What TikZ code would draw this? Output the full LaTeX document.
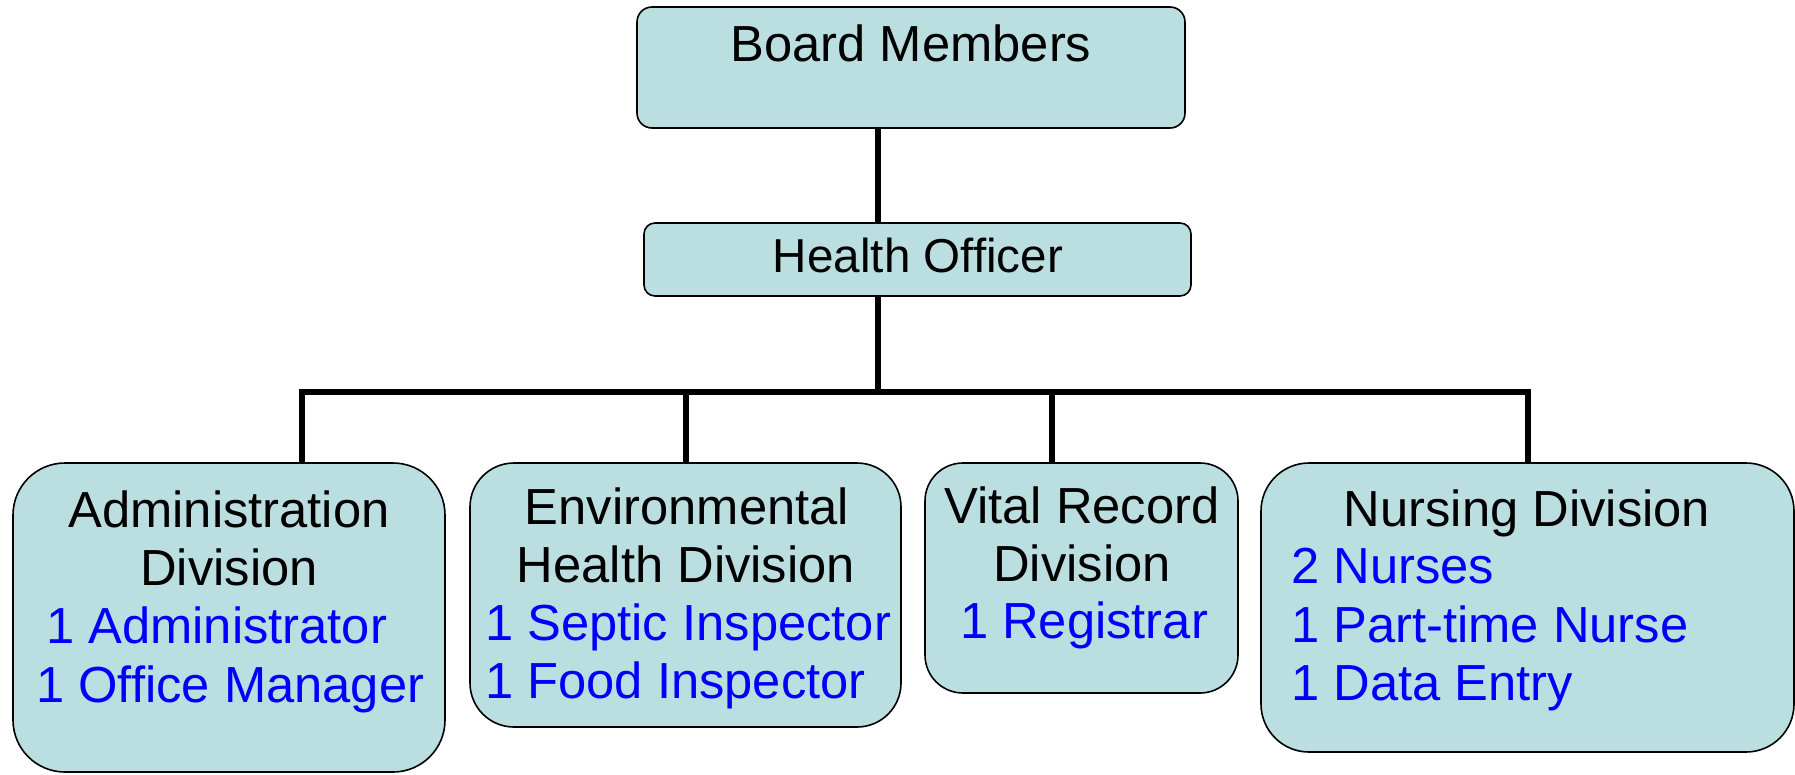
\documentclass[tikz,border=0pt]{standalone}
\usepackage{fontspec}
\setmainfont{Liberation Sans}
\definecolor{boxfill}{RGB}{187,223,225}
\definecolor{staff}{RGB}{0,0,255}
\begin{document}
\begin{tikzpicture}[x=1pt,y=-1pt,
  box/.style={draw=black, line width=1.6pt, fill=boxfill, rectangle, inner sep=0pt, outer sep=0pt},
  conn/.style={draw=black, line width=6pt},
  title/.style={inner sep=0pt, anchor=base, text=black, font=\fontsize{50.7}{58}\selectfont},
  stafftxt/.style={inner sep=0pt, anchor=base west, text=staff, font=\fontsize{50.7}{58}\selectfont},
  staffc/.style={inner sep=0pt, anchor=base, text=staff, font=\fontsize{50.7}{58}\selectfont}]
\useasboundingbox (0,0) rectangle (1795,774);
% boxes
\node[box, rounded corners=15pt, minimum width=548pt, minimum height=121pt] (board) at (911,67.5) {};
\node[box, rounded corners=11pt, minimum width=547pt, minimum height=73pt] (health) at (917.5,259.5) {};
\node[box, rounded corners=52pt, minimum width=432pt, minimum height=309pt] (admin) at (229,617.5) {};
\node[box, rounded corners=44pt, minimum width=431pt, minimum height=264pt] (env) at (685.5,595) {};
\node[box, rounded corners=38pt, minimum width=313pt, minimum height=230pt] (vital) at (1081.5,578) {};
\node[box, rounded corners=48pt, minimum width=533pt, minimum height=289pt] (nurse) at (1527.5,607.5) {};
% connectors
\coordinate (jc) at (878,392);
\coordinate (ja) at (301.5,392);
\coordinate (je) at (686,392);
\coordinate (jv) at (1052,392);
\coordinate (jn) at (1528,392);
\draw[conn] (board.south -| jc) -- (health.north -| jc);
\draw[conn] (health.south -| jc) -- (jc);
\draw[conn] (ja |- admin.north) -- (ja) -- (jn) -- (jn |- nurse.north);
\draw[conn] (je) -- (je |- env.north);
\draw[conn] (jv) -- (jv |- vital.north);
% texts
\node[title] (tboard) at (911,61) {Board Members};
\node[title, font=\fontsize{47.6}{56}\selectfont] (thealth) at (918,272) {Health Officer};
\node[title] (tadmin1) at (229,527) {Administration};
\node[title] (tadmin2) at (229,585) {Division};
\node[stafftxt] (sadmin1) at (46,643) {1 Administrator};
\node[stafftxt] (sadmin2) at (36,702) {1 Office Manager};
\node[title] (tenv1) at (687,524) {Environmental};
\node[title] (tenv2) at (686,582) {Health Division};
\node[stafftxt] (senv1) at (485,640) {1 Septic Inspector};
\node[stafftxt] (senv2) at (485,698) {1 Food Inspector};
\node[title] (tvital1) at (1082,523) {Vital Record};
\node[title] (tvital2) at (1082,581) {Division};
\node[staffc] (svital1) at (1084,638) {1 Registrar};
\node[title] (tnurse) at (1527,526) {Nursing Division};
\node[stafftxt] (snurse1) at (1291,583) {2 Nurses};
\node[stafftxt] (snurse2) at (1291,642) {1 Part-time Nurse};
\node[stafftxt] (snurse3) at (1291,700) {1 Data Entry};
\end{tikzpicture}
\end{document}
